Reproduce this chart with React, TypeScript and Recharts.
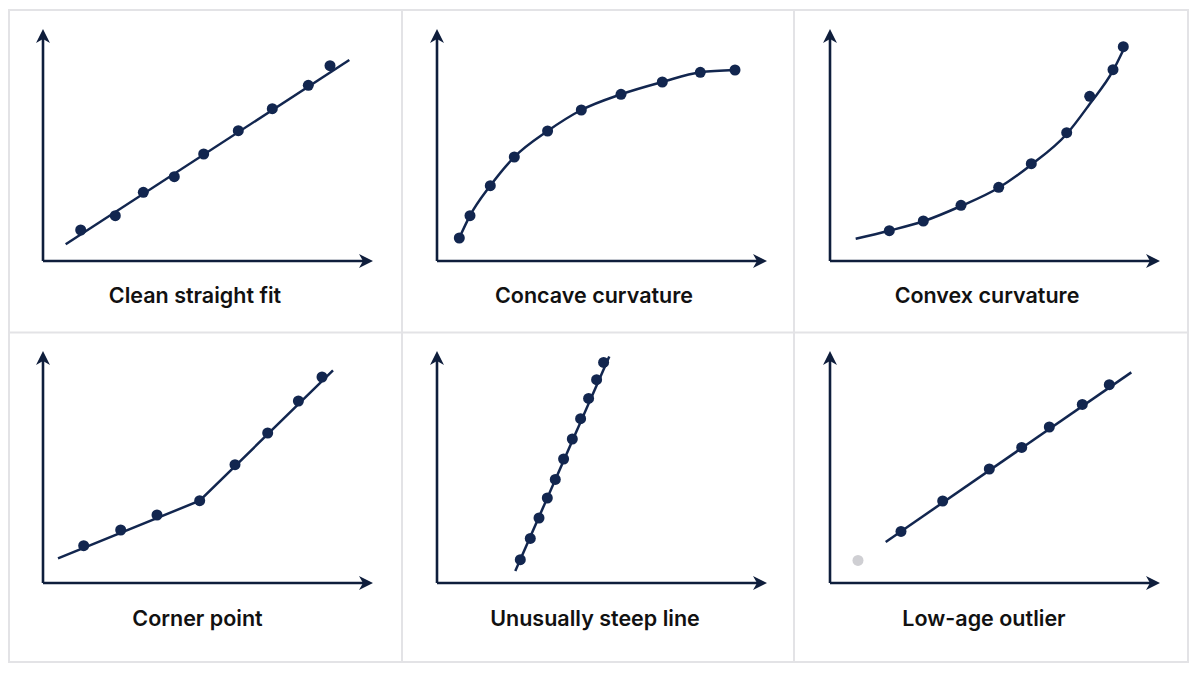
import React from 'react';
import { ComposedChart, XAxis, YAxis, Line, Scatter, ReferenceLine, ReferenceDot } from 'recharts';

const NAVY = '#12264f';
const AXIS = '#0f1e3c';
const GRAY_DOT = '#cfcfd3';
const BORDER = '#e3e3e6';

type Pt = { x: number; y: number };

const titles = [
  'Clean straight fit',
  'Concave curvature',
  'Convex curvature',
  'Corner point',
  'Unusually steep line',
  'Low-age outlier',
];

// Panel 1: clean straight fit
const straightDots: Pt[] = [
  { x: 37.7, y: 31 }, { x: 72.3, y: 45.3 }, { x: 100.3, y: 68.7 }, { x: 131.3, y: 84.3 },
  { x: 160.7, y: 107 }, { x: 195.3, y: 130.3 }, { x: 229.3, y: 152.3 }, { x: 265.3, y: 175.7 },
  { x: 287, y: 195.3 },
];
const straightFit: Pt[] = [{ x: 22.7, y: 16.7 }, { x: 306.3, y: 201 }];

// Panel 2: concave curvature
const concaveDots: Pt[] = [
  { x: 22.3, y: 23 }, { x: 33, y: 45.3 }, { x: 53.3, y: 75.3 }, { x: 77.3, y: 104 },
  { x: 110.6, y: 130 }, { x: 144.3, y: 151 }, { x: 184, y: 166.7 }, { x: 225.3, y: 179 },
  { x: 263.3, y: 188.7 }, { x: 298, y: 191 },
];
const concaveFit: Pt[] = concaveDots;

// Panel 3: convex curvature
const convexDots: Pt[] = [
  { x: 59.3, y: 30.3 }, { x: 93.3, y: 40 }, { x: 131, y: 55.7 }, { x: 168.7, y: 73.7 },
  { x: 201.3, y: 97.3 }, { x: 236.7, y: 128.3 }, { x: 259.7, y: 164.7 }, { x: 283, y: 191.3 },
  { x: 293.3, y: 214.3 },
];
const convexFit: Pt[] = [
  { x: 25.7, y: 22.3 }, { x: 59.3, y: 30.3 }, { x: 93.3, y: 39.7 }, { x: 131, y: 55 },
  { x: 168.7, y: 73.3 }, { x: 201.3, y: 96.3 }, { x: 236.7, y: 127 }, { x: 259.7, y: 157 },
  { x: 283, y: 190.3 }, { x: 293.3, y: 211 },
];

// Panel 4: corner point
const cornerDots: Pt[] = [
  { x: 40.7, y: 37.3 }, { x: 77.7, y: 53 }, { x: 114, y: 68 }, { x: 156.7, y: 82.3 },
  { x: 192, y: 118.3 }, { x: 224.7, y: 150 }, { x: 255.4, y: 182 }, { x: 279, y: 206 },
];
const cornerFit: Pt[] = [{ x: 15, y: 24.6 }, { x: 156.7, y: 82.3 }, { x: 290, y: 212.6 }];

// Panel 5: unusually steep line
const steepDots: Pt[] = [
  { x: 83.3, y: 23.3 }, { x: 93.3, y: 44.6 }, { x: 102, y: 65 }, { x: 110.3, y: 85 },
  { x: 118.3, y: 103.6 }, { x: 126.6, y: 124 }, { x: 135.3, y: 144 }, { x: 143.6, y: 164.3 },
  { x: 151.6, y: 184.6 }, { x: 159.6, y: 203.3 }, { x: 166.6, y: 220.6 },
];
const steepFit: Pt[] = [{ x: 78.3, y: 12 }, { x: 172.3, y: 226.6 }];

// Panel 6: low-age outlier
const outlierDots: Pt[] = [
  { x: 71, y: 51.6 }, { x: 112.7, y: 82 }, { x: 159.3, y: 114 }, { x: 191.7, y: 135.6 },
  { x: 219.3, y: 156 }, { x: 252.3, y: 178.6 }, { x: 279.3, y: 198.3 },
];
const outlierPoint: Pt[] = [{ x: 28, y: 22.6 }];
const outlierFit: Pt[] = [{ x: 55.7, y: 41 }, { x: 301.3, y: 210.6 }];

const X_MAX = 330;
const Y_MAX = 232;
const M = 12;

const dotShape = (fill: string) => (p: any) => <circle cx={p.cx} cy={p.cy} r={5.5} fill={fill} />;

const arrowRight = (p: any) => {
  const { cx, cy } = p;
  return <path d={`M${cx},${cy} L${cx - 14},${cy - 7} L${cx - 10},${cy} L${cx - 14},${cy + 7} Z`} fill={AXIS} />;
};
const arrowUp = (p: any) => {
  const { cx, cy } = p;
  return <path d={`M${cx},${cy} L${cx - 7},${cy + 14} L${cx},${cy + 10} L${cx + 7},${cy + 14} Z`} fill={AXIS} />;
};

type PanelProps = {
  ox: number;
  oy: number;
  fit: Pt[];
  curve: 'linear' | 'monotone';
  dots: Pt[];
  grayDots?: Pt[];
};

const Panel = ({ ox, oy, fit, curve, dots, grayDots }: PanelProps) => (
  <div style={{ position: 'absolute', left: ox - M, top: oy - Y_MAX - M }}>
    <ComposedChart width={X_MAX + 2 * M} height={Y_MAX + 2 * M} margin={{ top: M, right: M, bottom: M, left: M }}>
      <XAxis type="number" dataKey="x" domain={[0, X_MAX]} hide allowDataOverflow />
      <YAxis type="number" dataKey="y" domain={[0, Y_MAX]} hide allowDataOverflow />
      <ReferenceLine segment={[{ x: 0, y: 0 }, { x: X_MAX - 4, y: 0 }]} stroke={AXIS} strokeWidth={2.6} ifOverflow="visible" />
      <ReferenceLine segment={[{ x: 0, y: 0 }, { x: 0, y: Y_MAX - 4 }]} stroke={AXIS} strokeWidth={2.6} ifOverflow="visible" />
      <ReferenceDot x={X_MAX} y={0} r={0} shape={arrowRight} ifOverflow="visible" />
      <ReferenceDot x={0} y={Y_MAX} r={0} shape={arrowUp} ifOverflow="visible" />
      <Line data={fit} dataKey="y" type={curve} stroke={NAVY} strokeWidth={2.5} dot={false} activeDot={false} isAnimationActive={false} />
      {grayDots && (
        <Scatter data={grayDots} dataKey="y" shape={dotShape(GRAY_DOT)} isAnimationActive={false} />
      )}
      <Scatter data={dots} dataKey="y" shape={dotShape(NAVY)} isAnimationActive={false} />
    </ComposedChart>
  </div>
);

const labelPos = [
  { x: 195, y: 302.5 },
  { x: 594, y: 302.5 },
  { x: 987, y: 302.5 },
  { x: 197.5, y: 626 },
  { x: 595, y: 626 },
  { x: 984, y: 626 },
];

export default function App() {
  return (
    <div style={{ position: 'absolute', left: 0, top: 0, width: 1200, height: 675, background: '#ffffff', overflow: 'hidden' }}>
      <svg width={1200} height={675} style={{ position: 'absolute', left: 0, top: 0 }}>
        <rect x={9} y={10} width={1179} height={652} fill="none" stroke={BORDER} strokeWidth={2} />
        <line x1={402} y1={10} x2={402} y2={662} stroke={BORDER} strokeWidth={2} />
        <line x1={794} y1={10} x2={794} y2={662} stroke={BORDER} strokeWidth={2} />
        <line x1={9} y1={332.5} x2={1188} y2={332.5} stroke={BORDER} strokeWidth={2} />
        {titles.map((t, i) => (
          <text
            key={t}
            x={labelPos[i].x}
            y={labelPos[i].y}
            textAnchor="middle"
            fontFamily="Inter, Roboto, sans-serif"
            fontWeight={600}
            fontSize={21.5}
            fill="#111111"
          >
            {t}
          </text>
        ))}
      </svg>
      <Panel ox={43.3} oy={261} fit={straightFit} curve="linear" dots={straightDots} />
      <Panel ox={436.7} oy={261} fit={concaveFit} curve="monotone" dots={concaveDots} />
      <Panel ox={830} oy={261} fit={convexFit} curve="monotone" dots={convexDots} />
      <Panel ox={43.3} oy={583.3} fit={cornerFit} curve="linear" dots={cornerDots} />
      <Panel ox={436.7} oy={583.3} fit={steepFit} curve="linear" dots={steepDots} />
      <Panel ox={830} oy={583.3} fit={outlierFit} curve="linear" dots={outlierDots} grayDots={outlierPoint} />
    </div>
  );
}
